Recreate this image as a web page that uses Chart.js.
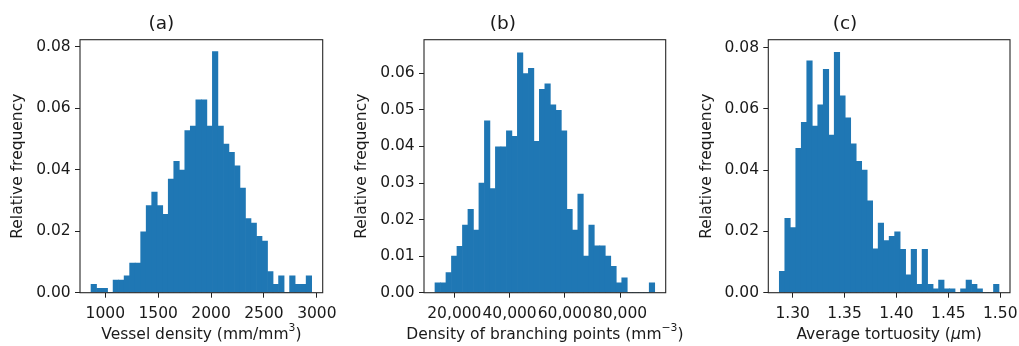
<!DOCTYPE html>
<html><head><meta charset="utf-8">
<script src="https://cdn.jsdelivr.net/npm/chart.js@4.4.1/dist/chart.umd.min.js"></script>
<style>
html,body{margin:0;padding:0;background:#fff;}
#wrap{position:relative;width:1019px;height:346px;overflow:hidden;background:#fff;}
canvas{position:absolute;top:0;left:0;}
</style></head><body>
<div id="wrap">
<canvas id="ca" width="1019" height="346"></canvas>
<canvas id="cb" width="1019" height="346"></canvas>
<canvas id="cc" width="1019" height="346"></canvas>
</div>
<script>
// ---- Panel (a): vessel density ----
const binRangeA = [865, 2951];
const freqA = [0.0027,0.0014,0.0014,0,0.0041,0.0041,0.0055,0.0096,0.0096,0.0198,
               0.0283,0.0327,0.0283,0.0255,0.0369,0.0427,0.0398,0.0527,0.0541,0.0627,
               0.0627,0.0541,0.0783,0.0541,0.0483,0.0456,0.0412,0.0340,0.0241,0.0226,
               0.0183,0.0168,0.0069,0.0027,0.0055,0,0.0055,0.0027,0.0027,0.0055];
const xTicksA = [1000,1500,2000,2500,3000];
const xTickLabelsA = ['1000','1500','2000','2500','3000'];
const yTicksA = [0,0.02,0.04,0.06,0.08];
const yTickLabelsA = ['0.00','0.02','0.04','0.06','0.08'];

// ---- Panel (b): branching points ----
const binRangeB = [12984, 92550];
const freqB = [0.0027,0.0027,0.0055,0.0100,0.0127,0.0185,0.0228,0.0171,0.0300,0.0470,
               0.0285,0.0399,0.0399,0.0443,0.0428,0.0656,0.0599,0.0614,0.0414,0.0556,
               0.0571,0.0514,0.0499,0.0443,0.0228,0.0171,0.0270,0.0100,0.0185,0.0128,
               0.0128,0.0100,0.0072,0.0027,0.0041,0,0,0,0,0.0027];
const xTicksB = [20000,40000,60000,80000];
const xTickLabelsB = ['20,000','40,000','60,000','80,000'];
const yTicksB = [0,0.01,0.02,0.03,0.04,0.05,0.06];
const yTickLabelsB = ['0.00','0.01','0.02','0.03','0.04','0.05','0.06'];

// ---- Panel (c): tortuosity ----
const binRangeC = [1.2871, 1.4988];
const freqC = [0.0070,0.0243,0.0213,0.0471,0.0556,0.0757,0.0544,0.0613,0.0729,0.0515,
               0.0785,0.0643,0.0571,0.0486,0.0429,0.0400,0.0300,0.0143,0.0227,0.0170,
               0.0184,0.0199,0.0142,0.0058,0.0142,0.0027,0.0142,0.0027,0.0013,0.0041,
               0.0013,0.0013,0,0.0013,0.0041,0.0027,0.0013,0,0,0.0027];
const xTicksC = [1.30,1.35,1.40,1.45,1.50];
const xTickLabelsC = ['1.30','1.35','1.40','1.45','1.50'];
const yTicksC = [0,0.02,0.04,0.06,0.08];
const yTickLabelsC = ['0.00','0.02','0.04','0.06','0.08'];

const titles = ['(a)','(b)','(c)'];
// x-axis titles as rich-text runs (s = superscript, i = italic)
const xTitleA = [{t:'Vessel density (mm/mm'},{t:'3',s:1},{t:')'}];
const xTitleB = [{t:'Density of branching points (mm'},{t:'\u22123',s:1},{t:')'}];
const xTitleC = [{t:'Average tortuosity ('},{t:'\u03BC',i:1},{t:'m)'}];
const yTitle = 'Relative frequency';

const FONT = '"DejaVu Sans", sans-serif';
const FS = 15.5;
const BAR = '#1f77b4';
const INK = '#1a1a1a';

const boxPlugin = {
  id: 'box',
  afterDraw(chart) {
    const {ctx, chartArea: a} = chart;
    ctx.save();
    ctx.strokeStyle = '#262626';
    ctx.lineWidth = 1.1;
    ctx.strokeRect(a.left, a.top, a.right - a.left, a.bottom - a.top);
    // x-axis title
    const runs = chart.options.plugins.box.runs;
    const fontOf = r => (r.i ? 'italic ' : '') + (r.s ? (FS * 0.7).toFixed(1) : FS) + 'px ' + FONT;
    let total = 0;
    runs.forEach(r => { ctx.font = fontOf(r); r.w = ctx.measureText(r.t).width; total += r.w; });
    let x = (a.left + a.right) / 2 - total / 2;
    const y = 334.5;
    ctx.fillStyle = INK;
    ctx.textAlign = 'left';
    ctx.textBaseline = 'middle';
    runs.forEach(r => {
      ctx.font = fontOf(r);
      ctx.fillText(r.t, x, r.s ? y - FS * 0.38 : y);
      x += r.w;
    });
    ctx.restore();
  }
};

function makeHist(id, o) {
  const n = o.freq.length;
  const w = (o.range[1] - o.range[0]) / n;
  const pts = o.freq.map((y, i) => ({x: o.range[0] + (i + 0.5) * w, y}));
  return new Chart(document.getElementById(id), {
    type: 'bar',
    data: {datasets: [{data: pts, backgroundColor: BAR, borderWidth: 0,
                       barPercentage: 1, categoryPercentage: 1}]},
    options: {
      responsive: false, animation: false, events: [],
      layout: {padding: {left: o.padL, right: o.padR, top: 0, bottom: 0}},
      plugins: {
        legend: {display: false}, tooltip: {enabled: false},
        box: {runs: o.xTitle},
        title: {display: true, text: o.title, color: INK,
                font: {family: FONT, size: 18.5, weight: 'normal'},
                padding: {top: 13.4, bottom: 4.1}}
      },
      scales: {
        x: {
          type: 'linear', offset: false, min: o.xlim[0], max: o.xlim[1],
          grid: {offset: false, drawOnChartArea: false, drawTicks: true, tickLength: 5, color: '#222'},
          border: {display: false},
          afterBuildTicks: s => { s.ticks = o.xTicks.map(v => ({value: v})); },
          ticks: {autoSkip: false, maxRotation: 0, minRotation: 0, padding: 7, color: INK,
                  font: {family: FONT, size: FS},
                  callback: (v, i) => o.xTickLabels[i]},
          title: {display: false},
          afterFit: s => { s.height = 53.3; s.paddingLeft = 0; s.paddingRight = 0; }
        },
        y: {
          type: 'linear', min: 0, max: o.ymax,
          grid: {drawOnChartArea: false, drawTicks: true, tickLength: 5, color: '#222'},
          border: {display: false},
          afterBuildTicks: s => { s.ticks = o.yTicks.map(v => ({value: v})); },
          ticks: {autoSkip: false, padding: 4.3, color: INK,
                  font: {family: FONT, size: FS},
                  callback: (v, i) => o.yTickLabels[i]},
          title: {display: true, text: yTitle, color: INK,
                  font: {family: FONT, size: FS}, padding: {top: o.yTitlePad, bottom: 0}},
          afterFit: s => { s.width = o.yW; s.paddingTop = 0; s.paddingBottom = 0; }
        }
      }
    },
    plugins: [boxPlugin]
  });
}

makeHist('ca', {freq: freqA, range: binRangeA, xlim: [760.7, 3055.3], ymax: 0.0822,
  xTicks: xTicksA, xTickLabels: xTickLabelsA, yTicks: yTicksA, yTickLabels: yTickLabelsA,
  title: titles[0], xTitle: xTitleA, padL: 0, yW: 80, padR: 696.3, yTitlePad: 8.7});
makeHist('cb', {freq: freqB, range: binRangeB, xlim: [9006, 96528], ymax: 0.0692,
  xTicks: xTicksB, xTickLabels: xTickLabelsB, yTicks: yTicksB, yTickLabels: yTickLabelsB,
  title: titles[1], xTitle: xTitleB, padL: 340, yW: 84, padR: 353.3, yTitlePad: 12.4});
makeHist('cc', {freq: freqC, range: binRangeC, xlim: [1.2765, 1.5094], ymax: 0.0826,
  xTicks: xTicksC, xTickLabels: xTickLabelsC, yTicks: yTicksC, yTickLabels: yTickLabelsC,
  title: titles[2], xTitle: xTitleC, padL: 680, yW: 88.3, padR: 9, yTitlePad: 17.4});
</script>
</body></html>
